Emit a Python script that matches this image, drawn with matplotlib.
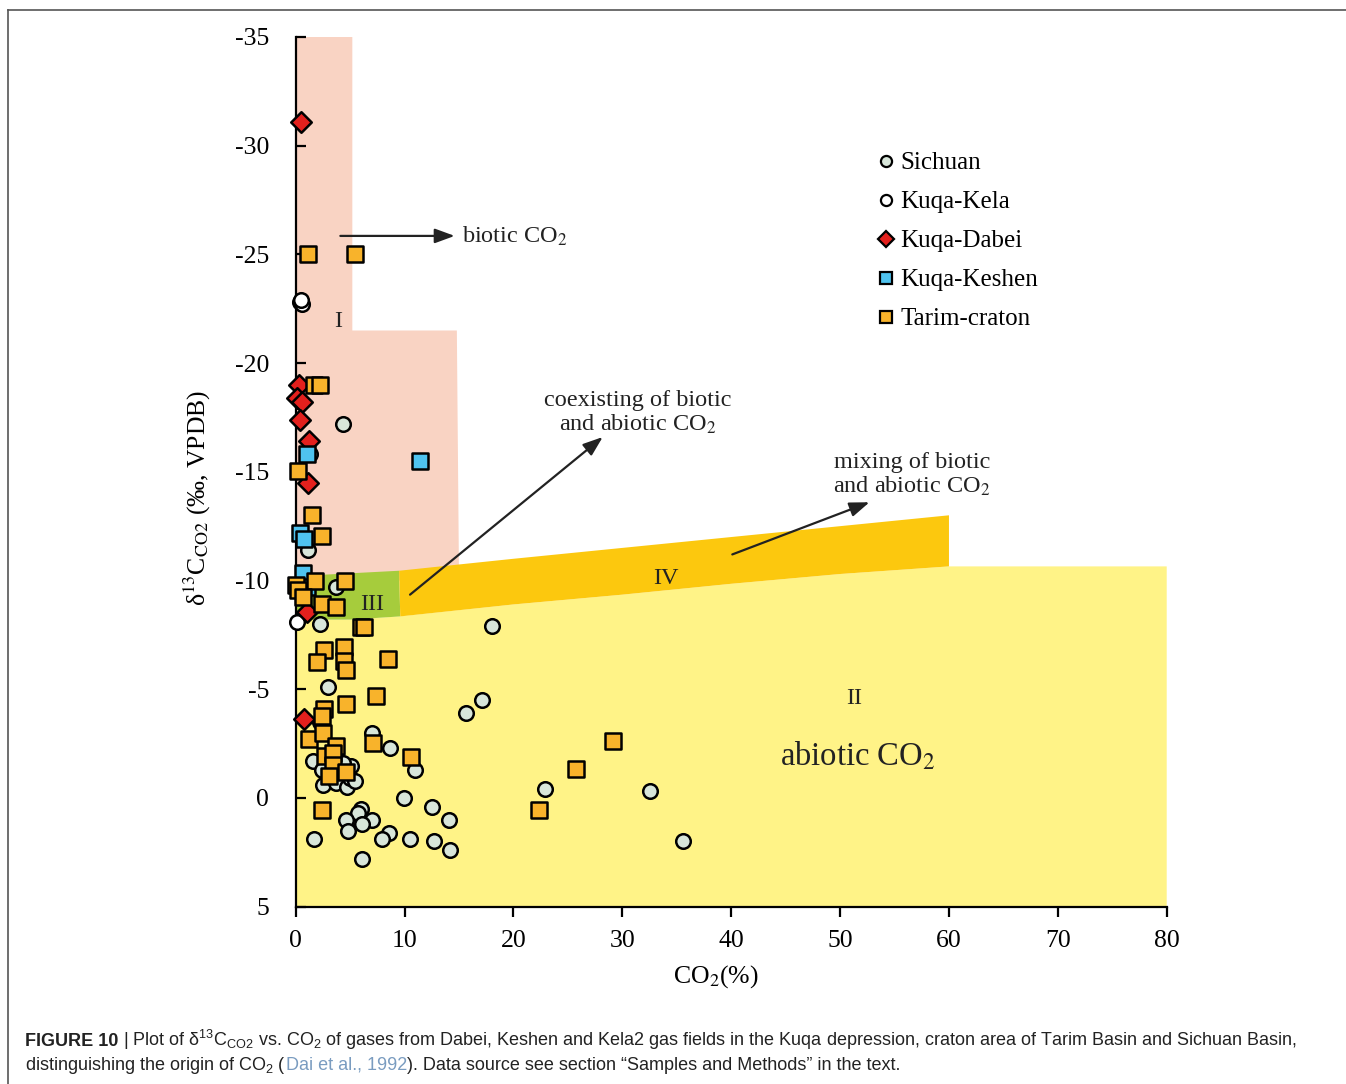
import matplotlib
matplotlib.use("Agg")
import matplotlib.pyplot as plt
from matplotlib.patches import Polygon
from matplotlib.lines import Line2D

# ---- data (CO2 %, d13C permil) ----
sichuan_x = [4.3, 1.1, 1.3, 3.7, 2.2, 3.0, 15.6, 17.1, 18.0, 7.0, 8.7, 11.0, 9.9, 12.5,
             14.1, 22.9, 32.5, 35.6, 6.0, 5.7, 4.65, 7.0, 6.1, 4.8, 8.6, 7.9, 10.5, 12.7,
             14.2, 6.1, 1.7, 1.6, 2.4, 2.5, 3.7, 4.7, 5.1, 5.0, 5.4, 4.3, 3.4, 2.2, 4.6]
sichuan_y = [-17.2, -11.4, -15.8, -9.7, -8.0, -5.1, -3.9, -4.5, -7.9, -3.0, -2.3, -1.3, 0.0, 0.4,
             1.0, -0.4, -0.3, 2.0, 0.5, 0.7, 1.0, 1.0, 1.2, 1.5, 1.6, 1.9, 1.9, 2.0,
             2.4, 2.8, 1.9, -1.7, -1.3, -0.6, -0.7, -0.5, -1.45, -0.9, -0.8, -1.6, -1.2, -3.5, -1.2]

kela_x = [0.4, 0.6, 0.5, 0.1]
kela_y = [-22.8, -22.7, -22.9, -8.1]

dabei_x = [0.5, 0.3, 0.1, 0.6, 0.4, 1.2, 1.1, 1.0, 0.8]
dabei_y = [-31.1, -19.0, -18.4, -18.2, -17.4, -16.4, -14.5, -8.55, -3.65]

keshen_x = [1.0, 11.4, 0.4, 0.8, 0.7, 1.0]
keshen_y = [-15.8, -15.5, -12.2, -11.9, -10.35, -9.7]

tarim_x = [1.1, 5.4, 1.7, 2.2, 0.2, 1.5, 2.4, 1.8, 4.5, 0.0, 0.2, 0.7, 2.4, 3.7, 6.0, 6.3,
           2.6, 4.4, 2.0, 4.4, 4.6, 8.5, 7.4, 4.6, 2.6, 2.4, 1.2, 2.5, 7.1, 3.7, 2.7, 3.4,
           3.4, 4.6, 3.05, 10.6, 2.4, 29.1, 25.7, 22.3]
tarim_y = [-25.0, -25.0, -19.0, -19.0, -15.05, -13.0, -12.05, -10.0, -10.0, -9.8, -9.55, -9.25,
           -8.9, -8.8, -7.85, -7.85, -6.8, -6.95, -6.25, -6.3, -5.9, -6.4, -4.7, -4.3, -4.1,
           -3.75, -2.7, -3.0, -2.55, -2.4, -1.95, -2.05, -1.5, -1.2, -1.0, -1.9, 0.55, -2.6,
           -1.35, 0.55]

# origin fields (Dai et al., 1992)
region_I = [(0, -35), (5.2, -35), (5.2, -21.5), (14.8, -21.5), (15.0, -10.0), (0, -10.0)]
region_II = [(0, 5), (80, 5), (80, -10.65), (60, -10.65), (50, -10.3), (40, -9.85),
             (30, -9.35), (20, -8.9), (9.5, -8.35), (5, -8.2), (0, -8.2)]
region_III = [(0, -10.2), (9.5, -10.45), (9.6, -8.35), (5, -8.2), (0, -8.2)]
region_IV = [(9.5, -10.45), (20, -11.0), (30, -11.5), (40, -12.0), (50, -12.5), (60, -13.0),
             (60, -10.65), (50, -10.3), (40, -9.85), (30, -9.35), (20, -8.9), (9.6, -8.35)]

plt.rcParams["font.family"] = "Liberation Serif"
plt.rcParams["axes.unicode_minus"] = False
plt.rcParams["mathtext.fontset"] = "stix"
plt.rcParams["mathtext.rm"] = "Liberation Sans"

fig = plt.figure(figsize=(13.46, 10.84), dpi=100)
ax = fig.add_axes([0.2197, 0.1636, 0.6471, 0.8023])

ax.add_patch(Polygon(region_I, closed=True, fc="#f9d3c3", ec="none", zorder=0))
ax.add_patch(Polygon(region_II, closed=True, fc="#fff387", ec="none", zorder=0))
ax.add_patch(Polygon(region_III, closed=True, fc="#a6cc3c", ec="none", zorder=1))
ax.add_patch(Polygon(region_IV, closed=True, fc="#fcc80e", ec="none", zorder=1))

kw = dict(edgecolors="black", linewidths=1.8, clip_on=False)
ax.scatter(sichuan_x, sichuan_y, s=110, marker="o", facecolors="#d8e6da", zorder=3, **kw)
ax.scatter(kela_x, kela_y, s=110, marker="o", facecolors="white", zorder=3, **kw)
ax.scatter(dabei_x, dabei_y, s=110, marker="D", facecolors="#e3201d", zorder=4, **kw)
ax.scatter(keshen_x, keshen_y, s=130, marker="s", facecolors="#4fc3ef", zorder=4, **kw)
ax.scatter(tarim_x, tarim_y, s=130, marker="s", facecolors="#f8b32b", zorder=5, **kw)

ax.set_xlim(0, 80)
ax.set_ylim(5, -35)
ax.set_xticks(range(0, 81, 10))
ax.set_yticks(range(-35, 6, 5))
for s in ["top", "right"]:
    ax.spines[s].set_visible(False)
for s in ["left", "bottom"]:
    ax.spines[s].set_linewidth(1.6)
ax.tick_params(axis="y", direction="in", length=7, width=1.6, labelsize=18.5, pad=19)
ax.tick_params(axis="x", direction="out", length=7, width=1.6, labelsize=18.5, pad=10)

ax.set_xlabel("CO$_2$(%)", fontsize=18.5)
ax.xaxis.set_label_coords(0.482, -0.065)
ax.set_ylabel("δ$^{13}$C$_{\\rm CO2}$ (‰, VPDB)", fontsize=18.5)
ax.yaxis.set_label_coords(-0.095, 0.47)

txt = "#222222"
arr = dict(arrowstyle="-|>,head_length=0.6,head_width=0.22", color=txt, lw=1.6,
           mutation_scale=20, shrinkA=0, shrinkB=0)
ax.annotate("", xy=(14.6, -25.85), xytext=(4.1, -25.85), arrowprops=arr)
ax.text(15.3, -25.85, "biotic CO$_2$", va="center", ha="left", fontsize=17.5, color=txt)
ax.annotate("", xy=(28.2, -16.6), xytext=(10.5, -9.35), arrowprops=arr)
ax.text(31.4, -17.7, "coexisting of biotic\nand abiotic CO$_2$", ha="center", va="center",
        fontsize=17.5, color=txt, linespacing=1.12)
ax.annotate("", xy=(52.7, -13.6), xytext=(40.1, -11.2), arrowprops=arr)
ax.text(56.6, -14.85, "mixing of biotic\nand abiotic CO$_2$", ha="center", va="center",
        fontsize=17.5, color=txt, linespacing=1.12)

ax.text(3.9, -21.9, "I", ha="center", va="center", fontsize=17.5, color=txt)
ax.text(7.0, -8.9, "III", ha="center", va="center", fontsize=17.5, color=txt, zorder=6)
ax.text(34.0, -10.1, "IV", ha="center", va="center", fontsize=17.5, color=txt)
ax.text(51.3, -4.56, "II", ha="center", va="center", fontsize=17.5, color=txt)
ax.text(51.6, -1.9, "abiotic CO$_2$", ha="center", va="center", fontsize=23.5, color=txt)

handles = [
    Line2D([], [], ls="none", marker="o", ms=8, mfc="#d8e6da", mec="black", mew=1.6, label="Sichuan"),
    Line2D([], [], ls="none", marker="o", ms=8, mfc="white", mec="black", mew=1.6, label="Kuqa-Kela"),
    Line2D([], [], ls="none", marker="D", ms=8, mfc="#e3201d", mec="black", mew=1.6, label="Kuqa-Dabei"),
    Line2D([], [], ls="none", marker="s", ms=8, mfc="#4fc3ef", mec="black", mew=1.6, label="Kuqa-Keshen"),
    Line2D([], [], ls="none", marker="s", ms=8, mfc="#f8b32b", mec="black", mew=1.6, label="Tarim-craton"),
]
ax.legend(handles=handles, loc="upper left", bbox_to_anchor=(0.668, 0.868), frameon=False,
          fontsize=18, handlelength=0.7, handletextpad=0.2, labelspacing=0.66, borderaxespad=0,
          borderpad=0)

# frame and caption
W, H = 1346.0, 1084.0
fig.add_artist(Line2D([8 / W, 8 / W], [1 - 10 / H, 0], color="#555555", lw=1.2))
fig.add_artist(Line2D([8 / W, 1], [1 - 10 / H, 1 - 10 / H], color="#555555", lw=1.2))

cap = dict(family="Liberation Sans", fontsize=13, va="baseline", math_fontfamily="custom",
           color="#222222")
r = fig.canvas.get_renderer()
t = fig.text(25 / W, 1 - 1046 / H, "FIGURE 10", fontweight="bold", **cap)
x = t.get_window_extent(r).x1 / W
fig.text(x, 1 - 1046 / H, " | Plot of δ$^{13}$C$_{\\rm CO2}$ vs. CO$_2$ of gases from Dabei, Keshen "
         "and Kela2 gas fields in the Kuqa depression, craton area of Tarim Basin and Sichuan Basin,",
         **cap)
t = fig.text(25 / W, 1 - 1070 / H, "distinguishing the origin of CO$_2$ (", **cap)
x = t.get_window_extent(r).x1 / W
cap2 = dict(cap, color="#7a9cc0")
t = fig.text(x, 1 - 1070 / H, "Dai et al., 1992", **cap2)
x = t.get_window_extent(r).x1 / W
fig.text(x, 1 - 1070 / H, "). Data source see section “Samples and Methods” in the text.", **cap)

fig.savefig("out.png", dpi=100)
